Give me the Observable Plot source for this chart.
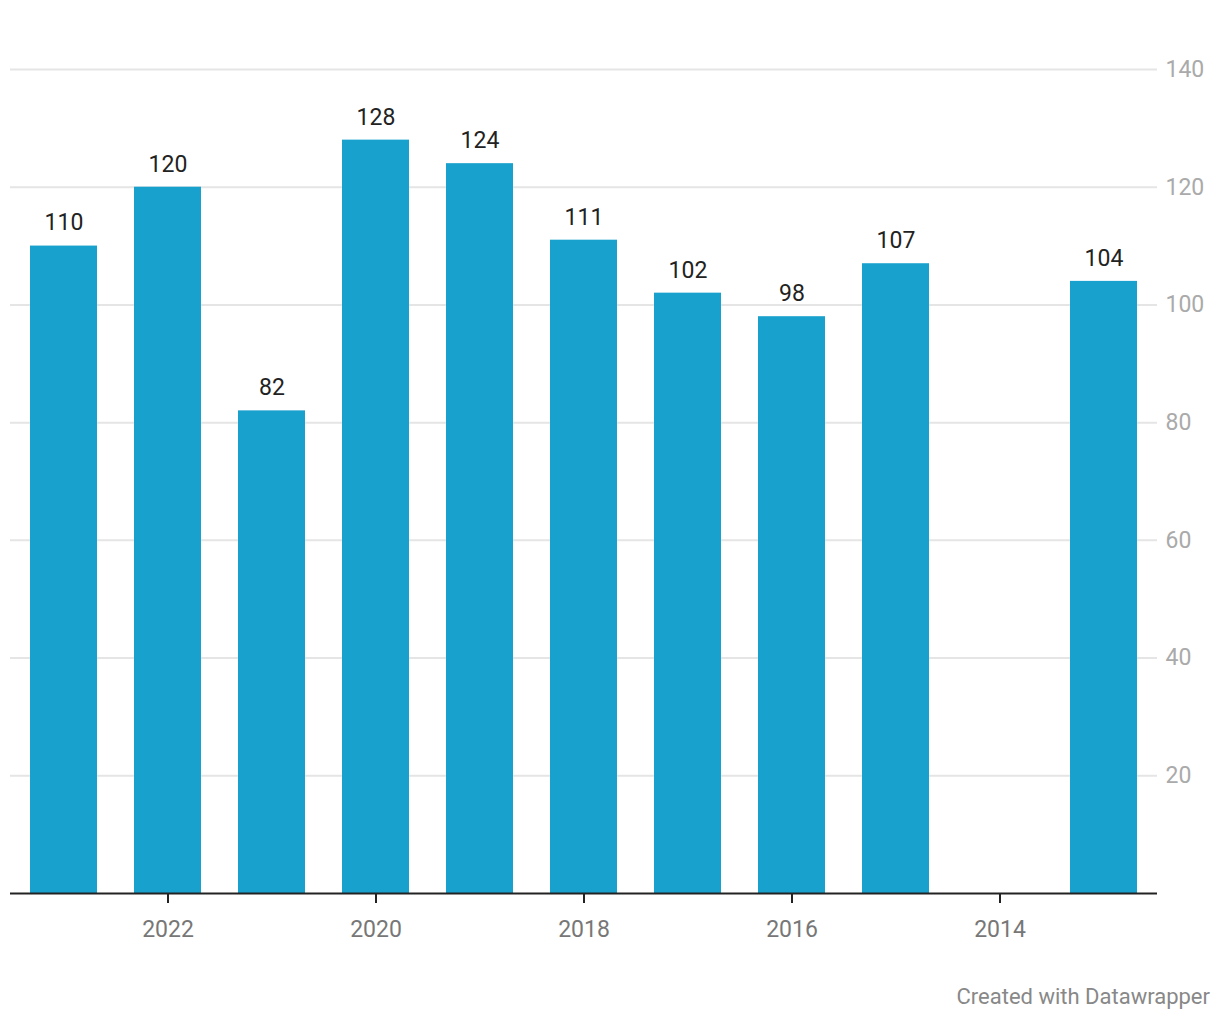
<!DOCTYPE html>
<html>
<head>
<meta charset="utf-8">
<script src="https://cdn.jsdelivr.net/npm/d3@7"></script>
<script src="https://cdn.jsdelivr.net/npm/@observablehq/plot@0.6"></script>
<style>
  body { margin: 0; background: #fff; font-family: Roboto, sans-serif; }
  #chart { width: 1220px; }
  #caption { font-family: Roboto, sans-serif; font-size: 22px; color: #888; text-align: right; padding-right: 10px; margin-top: 34px; line-height: 26px; }
</style>
</head>
<body>
<div id="chart"></div>
<div id="caption">Created with Datawrapper</div>
<script>
const years = ["2023","2022","2021","2020","2019","2018","2017","2016","2015","2014","2013"];
const barYears = ["2023","2022","2021","2020","2019","2018","2017","2016","2015","2013"];
const values = [110, 120, 82, 128, 124, 111, 102, 98, 107, 104];
const xTicks = ["2022","2020","2018","2016","2014"];
const yTicks = [20, 40, 60, 80, 100, 120, 140];

const data = barYears.map((y, i) => ({year: y, value: values[i]}));

const chart = Plot.plot({
  width: 1220,
  height: 950,
  marginLeft: 10,
  marginRight: 63,
  marginTop: 69,
  marginBottom: 57,
  style: {fontFamily: "Roboto, sans-serif", background: "#fff"},
  x: {type: "band", domain: years, paddingInner: 0.36, paddingOuter: 0.19},
  y: {domain: [0, 140]},
  marks: [
    Plot.gridY(yTicks, {stroke: "#e5e5e5", strokeOpacity: 1, strokeWidth: 2}),
    Plot.barY(data, {x: "year", y: "value", fill: "#18a1cd"}),
    Plot.ruleY([0], {stroke: "#222", strokeWidth: 2}),
    Plot.text(data, {x: "year", y: "value", text: d => String(d.value), dy: -23, fontSize: 23, fill: "#222"}),
    Plot.axisX(xTicks, {tickSize: 10, tickPadding: 17, fontSize: 23, color: "#777", stroke: "#222", strokeWidth: 2, label: null, tickFormat: d => d}),
    Plot.axisY(yTicks, {anchor: "right", tickSize: 0, tickPadding: 8, fontSize: 23, fill: "#aaa", label: null})
  ]
});
chart.querySelectorAll('[aria-label="x-axis tick"] path, [aria-label="x-axis tick"]').forEach(e => e.setAttribute("stroke", "#222"));
document.getElementById("chart").appendChild(chart);
</script>
</body>
</html>
